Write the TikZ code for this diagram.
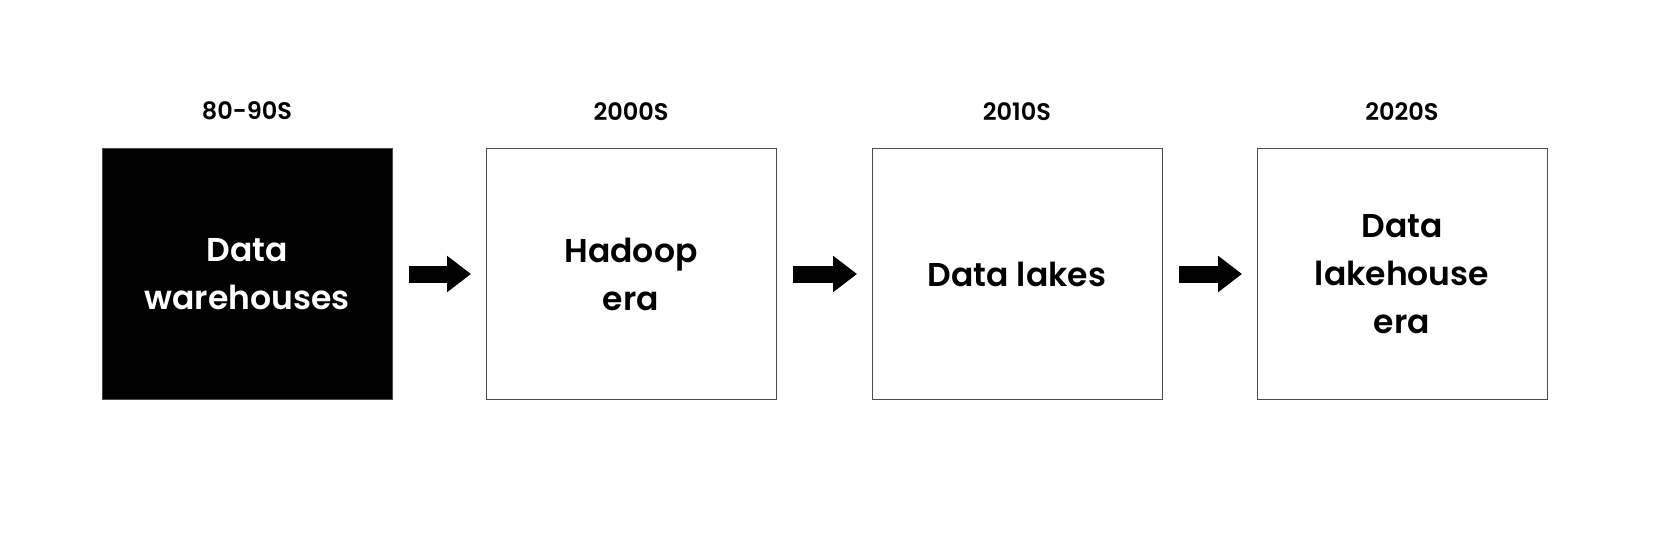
\documentclass[tikz,border=0pt]{standalone}
\usepackage{fontspec}
\setmainfont{Poppins}[BoldFont={Poppins SemiBold}]
\usetikzlibrary{arrows.meta,positioning}

\begin{document}
\begin{tikzpicture}[
    box/.style={
        draw=black!70,
        line width=1pt,
        align=center,
        inner sep=0pt,
        outer sep=0pt,
        minimum width=290pt,
        minimum height=251pt,
        font=\bfseries\fontsize{33}{48}\selectfont
    },
    era/.style={
        inner sep=0pt,
        font=\bfseries\fontsize{24}{28}\selectfont
    },
    line/.style={
        -{Triangle[width=35pt,length=24pt]},
        line width=17pt,
        shorten <=17pt,
        shorten >=15pt
    }
]
\useasboundingbox (0,0) rectangle (1674pt,-551pt);

\node[box, fill=black, text=white] (wh) at (247pt,-274pt) {Data\\warehouses};
\node[box, right=94pt of wh] (hadoop) {Hadoop\\era};
\node[box, right=96pt of hadoop] (lakes) {Data lakes};
\node[box, right=95pt of lakes] (lakehouse) {Data\\lakehouse\\era};

\node[era, above=28pt of wh] (t80) {80-90S};
\node[era, above=28pt of hadoop] (t2000) {2000S};
\node[era, above=28pt of lakes] (t2010) {2010S};
\node[era, above=28pt of lakehouse] (t2020) {2020S};

\draw[line] (wh) -- (hadoop);
\draw[line] (hadoop) -- (lakes);
\draw[line] (lakes) -- (lakehouse);

\end{tikzpicture}
\end{document}
